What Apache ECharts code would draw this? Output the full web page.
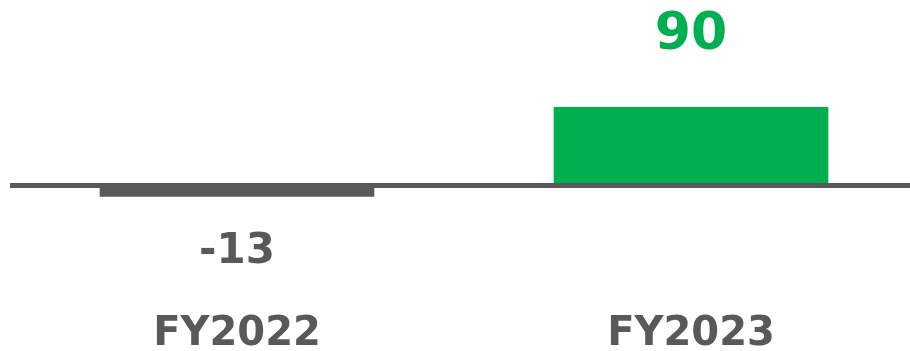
<!DOCTYPE html>
<html>
<head>
<meta charset="utf-8">
<script src="https://cdn.jsdelivr.net/npm/echarts@6/dist/echarts.min.js"></script>
<style>
  html, body { margin: 0; padding: 0; background: #ffffff; }
  #chart { width: 910px; height: 351px; }
</style>
</head>
<body>
<div id="chart"></div>
<script>
// Fiscal years and the yearly values shown on the bars
const categories = ['FY2022', 'FY2023'];
const values = [-13, 90];
const barColors = ['#595959', '#00B050'];

const GRAY = '#595959';
const FONT = '"DejaVu Sans", Verdana, sans-serif';

const chart = echarts.init(document.getElementById('chart'), null, { renderer: 'canvas' });

const seriesData = values.map((v, i) => {
  const positive = v >= 0;
  return {
    value: v,
    itemStyle: { color: barColors[i] },
    label: positive
      ? { position: 'top', distance: 45, fontSize: 52, color: barColors[i] }
      : { position: 'bottom', distance: 34, fontSize: 42, color: barColors[i] }
  };
});

chart.setOption({
  animation: false,
  grid: {
    left: 10, top: 11, width: 908, height: 301,
    containLabel: false,
    outerBoundsMode: 'none'
  },
  xAxis: [
    {
      // category labels along the bottom edge
      type: 'category',
      data: categories,
      position: 'bottom',
      axisLine: { show: false, onZero: false },
      axisTick: { show: false },
      axisLabel: {
        interval: 0,
        margin: 23,
        verticalAlign: 'middle',
        lineHeight: 30,
        fontFamily: FONT,
        fontWeight: 'bold',
        fontSize: 40,
        color: GRAY
      }
    },
    {
      // baseline drawn at zero
      type: 'category',
      data: categories,
      position: 'top',
      axisLine: { show: true, onZero: true, lineStyle: { color: GRAY, width: 5, cap: 'butt' } },
      axisTick: { show: false },
      axisLabel: { show: false },
      z: 5
    }
  ],
  yAxis: {
    type: 'value',
    min: -145,
    max: 200,
    show: false,
    splitLine: { show: false }
  },
  series: [{
    type: 'bar',
    xAxisIndex: 0,
    data: seriesData,
    barWidth: '60.5%',
    label: {
      show: true,
      fontFamily: FONT,
      fontWeight: 'bold'
    }
  }]
});
</script>
</body>
</html>
